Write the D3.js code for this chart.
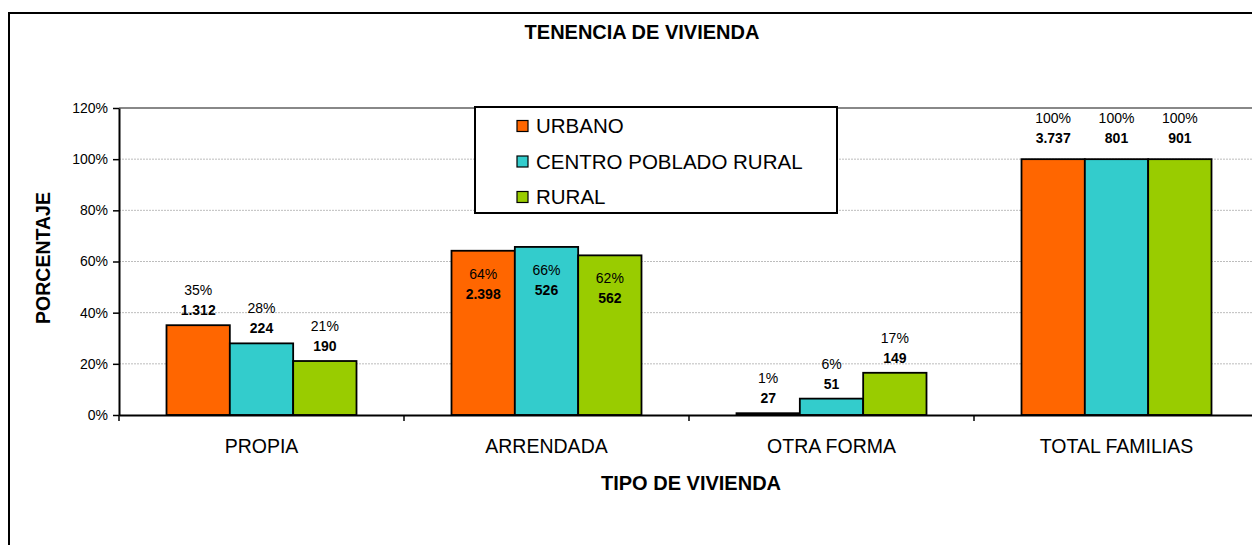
<!DOCTYPE html>
<html>
<head>
<meta charset="utf-8">
<script src="https://cdn.jsdelivr.net/npm/d3@7"></script>
<style>
  body { margin: 0; background: #fff; }
  svg text { font-family: "Liberation Sans", Arial, sans-serif; fill: #000; }
</style>
</head>
<body>
<div class="chart"></div>
<script>
// ---- data ----
var categories = ["PROPIA", "ARRENDADA", "OTRA FORMA", "TOTAL FAMILIAS"];
var series = ["URBANO", "CENTRO POBLADO RURAL", "RURAL"];
var colors = ["#FF6600", "#33CCCC", "#99CC00"];

// percentage of each series per category
var urbanoPct = [35.1, 64.2, 0.7, 100];
var centroPct = [28.0, 65.7, 6.4, 100];
var ruralPct  = [21.1, 62.4, 16.5, 100];

// labels printed on the bars
var urbanoPctLabel = ["35%", "64%", "1%", "100%"];
var centroPctLabel = ["28%", "66%", "6%", "100%"];
var ruralPctLabel  = ["21%", "62%", "17%", "100%"];
var urbanoCount = ["1.312", "2.398", "27", "3.737"];
var centroCount = ["224", "526", "51", "801"];
var ruralCount  = ["190", "562", "149", "901"];

var yTicks = [0, 20, 40, 60, 80, 100, 120];

// ---- chart space ----
var svgWidth = 1252, svgHeight = 545;
var svg = d3.select(".chart").append("svg")
    .attr("width", svgWidth)
    .attr("height", svgHeight);

// outer chart frame (runs off the right and bottom edges)
svg.append("rect")
    .attr("x", 9).attr("y", 13)
    .attr("width", 1300).attr("height", 600)
    .attr("fill", "none").attr("stroke", "#000").attr("stroke-width", 2);

var plotLeft = 119, plotRight = 1259, plotTop = 108, plotBottom = 415;

var x0 = d3.scaleBand().domain(categories).range([plotLeft, plotRight]);
var bw = x0.bandwidth();
var x1 = d3.scaleBand().domain(series)
    .range([bw * 0.75 / 4.5, bw * 3.75 / 4.5]);
var y = d3.scaleLinear().domain([0, 120]).range([plotBottom, plotTop]);

// gridlines
svg.append("g").selectAll("line")
    .data(yTicks.filter(t => t > 0 && t < 120))
    .enter().append("line")
    .attr("x1", plotLeft).attr("x2", svgWidth)
    .attr("y1", d => y(d)).attr("y2", d => y(d))
    .attr("stroke", "#bdbdbd").attr("stroke-width", 1)
    .attr("stroke-dasharray", "2,1");

// top border of plot area
svg.append("line")
    .attr("x1", plotLeft).attr("x2", svgWidth)
    .attr("y1", y(120)).attr("y2", y(120))
    .attr("stroke", "#888").attr("stroke-width", 2);

// bars
var rows = [];
categories.forEach(function (c, i) {
    var pcts = [urbanoPct[i], centroPct[i], ruralPct[i]];
    var pl = [urbanoPctLabel[i], centroPctLabel[i], ruralPctLabel[i]];
    var cl = [urbanoCount[i], centroCount[i], ruralCount[i]];
    series.forEach(function (s, j) {
        rows.push({ cat: c, ci: i, s: s, j: j, v: pcts[j], pl: pl[j], cl: cl[j] });
    });
});

svg.append("g").selectAll("rect")
    .data(rows)
    .enter().append("rect")
    .attr("x", d => x0(d.cat) + x1(d.s))
    .attr("y", d => y(d.v))
    .attr("width", x1.bandwidth())
    .attr("height", d => y(0) - y(d.v))
    .attr("fill", d => colors[d.j])
    .attr("stroke", "#000").attr("stroke-width", 1.8);

// data labels: above the bar, inside for ARRENDADA, a bit higher for totals
var labelShift = [0, 58, 0, -6];
var labels = svg.append("g").selectAll("g")
    .data(rows)
    .enter().append("g")
    .attr("transform", d => `translate(${x0(d.cat) + x1(d.s) + x1.bandwidth() / 2}, ${y(d.v) + labelShift[d.ci]})`);

labels.append("text")
    .attr("y", -35).attr("dy", "0.35em")
    .attr("text-anchor", "middle")
    .style("font-size", "14px")
    .text(d => d.pl);

labels.append("text")
    .attr("y", -15).attr("dy", "0.35em")
    .attr("text-anchor", "middle")
    .style("font-size", "14px").style("font-weight", "bold")
    .text(d => d.cl);

// axes
var leftAxis = d3.axisLeft(y).tickValues(yTicks)
    .tickFormat(d => d + "%").tickSizeInner(6).tickSizeOuter(0).tickPadding(5);
var yAxisG = svg.append("g")
    .attr("transform", `translate(${plotLeft},0)`)
    .call(leftAxis);
yAxisG.select(".domain").attr("stroke", "#000").attr("stroke-width", 2);
yAxisG.selectAll(".tick line").attr("stroke", "#000").attr("stroke-width", 1.5);
yAxisG.selectAll(".tick text")
    .style("font-family", "Liberation Sans, Arial, sans-serif")
    .style("font-size", "14px");

var bottomAxis = d3.axisBottom(x0).tickSize(0).tickPadding(24);
var xAxisG = svg.append("g")
    .attr("transform", `translate(0,${plotBottom})`)
    .call(bottomAxis);
xAxisG.select(".domain").attr("stroke", "#000").attr("stroke-width", 2);
xAxisG.selectAll(".tick text")
    .style("font-family", "Liberation Sans, Arial, sans-serif")
    .style("font-size", "19.5px");

// category boundary ticks
xAxisG.append("g").selectAll("line")
    .data(categories)
    .enter().append("line")
    .attr("x1", d => x0(d)).attr("x2", d => x0(d))
    .attr("y1", 0).attr("y2", 6)
    .attr("stroke", "#000").attr("stroke-width", 1.5);

// titles
svg.append("text")
    .attr("x", 642).attr("y", 39)
    .attr("text-anchor", "middle")
    .style("font-size", "20px").style("font-weight", "bold")
    .text("TENENCIA DE VIVIENDA");

svg.append("text")
    .attr("x", 691).attr("y", 490)
    .attr("text-anchor", "middle")
    .style("font-size", "20px").style("font-weight", "bold")
    .text("TIPO DE VIVIENDA");

svg.append("text")
    .attr("transform", "translate(50, 258) rotate(-90)")
    .attr("text-anchor", "middle")
    .style("font-size", "19.5px").style("font-weight", "bold")
    .text("PORCENTAJE");

// legend
var legend = svg.append("g").attr("transform", "translate(475,107)");
legend.append("rect")
    .attr("width", 362).attr("height", 106)
    .attr("fill", "#fff").attr("stroke", "#000").attr("stroke-width", 2);

var items = legend.selectAll("g.item")
    .data(series)
    .enter().append("g")
    .attr("class", "item")
    .attr("transform", (d, i) => `translate(42, ${19 + i * 35.5})`);

items.append("rect")
    .attr("x", 0).attr("y", -5.5)
    .attr("width", 11).attr("height", 11)
    .attr("fill", (d, i) => colors[i])
    .attr("stroke", "#000").attr("stroke-width", 1.2);

items.append("text")
    .attr("x", 19).attr("dy", "0.36em")
    .style("font-size", "20.5px")
    .text(d => d);
</script>
</body>
</html>
